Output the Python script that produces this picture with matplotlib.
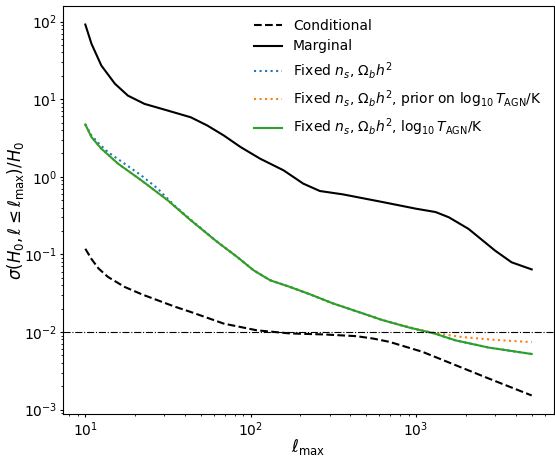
import matplotlib
matplotlib.use("Agg")
import matplotlib.pyplot as plt

# Conditional (dashed black)
ell_cond = [10, 10.9, 12.0, 13.7, 17.3, 22.0, 27.4, 34.5, 43.4, 68.8, 109, 173, 274, 435, 547, 689,
            1092, 1730, 2740, 5000]
sig_cond = [0.118, 0.087, 0.066, 0.0512, 0.038, 0.0305, 0.0256, 0.0213, 0.0181, 0.0128, 0.0105,
            0.00957, 0.0093, 0.00883, 0.00824, 0.00746, 0.00555, 0.00374, 0.00252, 0.00152]

# Marginal (solid black)
ell_marg = [10, 10.9, 12.5, 15.1, 18.1, 22.8, 31.5, 43.4, 54.7, 68.8, 86.7, 114, 158, 208, 262, 361,
            628, 996, 1312, 1575, 2075, 3000, 3780, 5000]
sig_marg = [91.5, 51.6, 27.1, 15.8, 11.1, 8.69, 7.13, 5.84, 4.57, 3.40, 2.42, 1.71, 1.21, 0.815, 0.655,
            0.593, 0.472, 0.388, 0.351, 0.301, 0.213, 0.112, 0.079, 0.064]

# Fixed n_s, Omega_b h^2 (blue dotted)
ell_fix = [10, 10.9, 12.0, 13.7, 17.3, 21.8, 27.4, 34.5, 43.4, 62.8, 82.8, 104, 131, 173, 228, 315,
           435, 628, 908, 1282, 1730, 2740, 5000]
sig_fix = [4.72, 3.41, 2.72, 2.08, 1.47, 1.04, 0.703, 0.428, 0.28, 0.1445, 0.0927, 0.0624, 0.0464,
           0.0380, 0.0306, 0.0233, 0.0185, 0.0142, 0.0114, 0.0096, 0.0078, 0.0063, 0.0052]

# Fixed n_s, Omega_b h^2, prior on log10 T_AGN (orange dotted)
ell_prior = [10, 10.9, 12.5, 15.8, 21.8, 31.5, 43.4, 62.8, 82.8, 104, 131, 173, 228, 315, 435, 628,
             908, 1092, 1375, 1897, 3000, 5000]
sig_prior = [4.72, 3.24, 2.30, 1.47, 0.90, 0.497, 0.275, 0.1445, 0.0927, 0.0624, 0.0464, 0.0380,
             0.0306, 0.0233, 0.0185, 0.0142, 0.0116, 0.0104, 0.0095, 0.0086, 0.0079, 0.0074]

# Fixed n_s, Omega_b h^2, log10 T_AGN (green solid)
ell_tagn = [10, 10.9, 12.5, 15.8, 21.8, 31.5, 43.4, 62.8, 82.8, 104, 131, 173, 228, 315, 435, 628,
            908, 1282, 1730, 2740, 5000]
sig_tagn = [4.72, 3.24, 2.30, 1.47, 0.90, 0.497, 0.275, 0.1445, 0.0927, 0.0624, 0.0464, 0.0380,
            0.0306, 0.0233, 0.0185, 0.0142, 0.0114, 0.0096, 0.0078, 0.0063, 0.0052]

labels = [
    "Conditional",
    "Marginal",
    r"Fixed $n_s$, $\Omega_b h^2$",
    r"Fixed $n_s$, $\Omega_b h^2$, prior on $\log_{10} T_{\rm AGN}/{\rm K}$",
    r"Fixed $n_s$, $\Omega_b h^2$, $\log_{10} T_{\rm AGN}/{\rm K}$",
]
ref_level = 0.01

fig = plt.figure(figsize=(5.55, 4.57), dpi=100)
ax = fig.add_axes([63 / 555, 43 / 457, 491 / 555, 408 / 457])

ax.plot(ell_cond, sig_cond, color="black", ls="--", lw=1.5, label=labels[0])
ax.plot(ell_marg, sig_marg, color="black", ls="-", lw=1.5, label=labels[1])
ax.plot(ell_fix, sig_fix, color="#1f77b4", ls=":", lw=1.5, label=labels[2])
ax.plot(ell_prior, sig_prior, color="#ff7f0e", ls=":", lw=1.5, label=labels[3])
ax.plot(ell_tagn, sig_tagn, color="#2ca02c", ls="-", lw=1.5, label=labels[4])
ax.axhline(ref_level, color="black", ls="-.", lw=0.8)

ax.set_xscale("log")
ax.set_yscale("log")
ax.set_xlabel(r"$\ell_{\rm max}$", fontsize=12, labelpad=-1)
ax.set_ylabel(r"$\sigma(H_0, \ell \leq \ell_{\rm max})/H_0$", fontsize=12)
ax.yaxis.set_label_coords(-0.076, 0.5)
ax.tick_params(which="major", labelsize=10, length=2.2, pad=2.2)
ax.tick_params(which="minor", length=1.3)
ax.legend(loc="upper right", frameon=False, fontsize=10)

fig.savefig("out.png", dpi=100)
